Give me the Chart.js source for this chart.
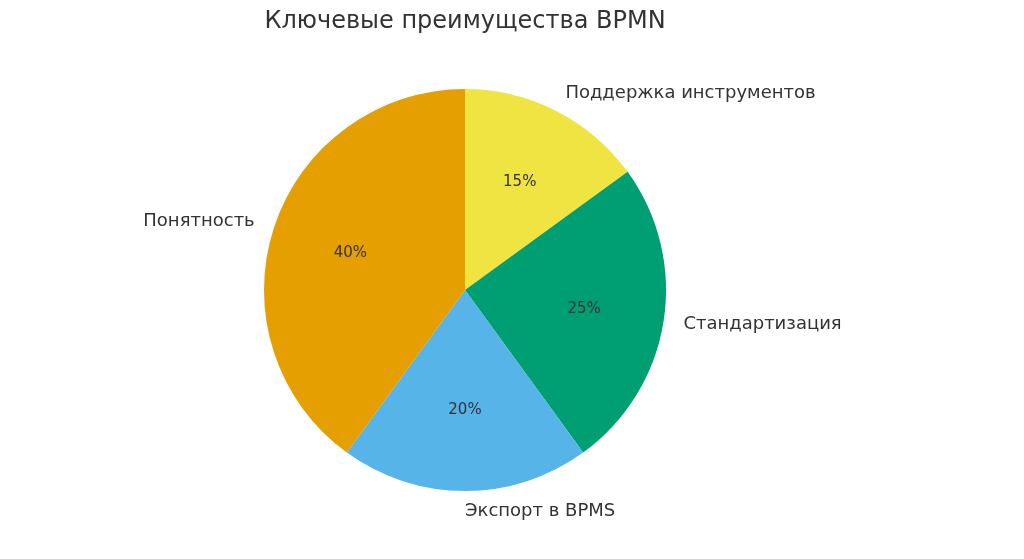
<!DOCTYPE html>
<html lang="ru">
<head>
<meta charset="UTF-8">
<title>Ключевые преимущества BPMN</title>
<script src="https://cdn.jsdelivr.net/npm/chart.js@4.4.0/dist/chart.umd.min.js"></script>
<style>
  html, body { margin: 0; padding: 0; background: #fff; }
  #wrap { width: 1024px; height: 559px; position: relative; }
</style>
</head>
<body>
<div id="wrap"><canvas id="pie"></canvas></div>
<script>
// clockwise from top (matplotlib draws these counterclockwise from the top)
const labels = ['Поддержка инструментов', 'Стандартизация', 'Экспорт в BPMS', 'Понятность'];
const values = [15, 25, 20, 40];
const colors = ['#F0E442', '#009E73', '#56B4E9', '#E69F00'];
const title = 'Ключевые преимущества BPMN';

const total = values.reduce((a, b) => a + b, 0);

const pieText = {
  id: 'pieText',
  afterDatasetsDraw(chart) {
    const ctx = chart.ctx;
    const arcs = chart.getDatasetMeta(0).data;
    ctx.save();
    ctx.fillStyle = '#333';
    ctx.textBaseline = 'middle';
    arcs.forEach((arc, i) => {
      const { x, y, startAngle, endAngle, outerRadius } = arc.getProps(['x', 'y', 'startAngle', 'endAngle', 'outerRadius'], true);
      const mid = (startAngle + endAngle) / 2;
      const c = Math.cos(mid), s = Math.sin(mid);
      ctx.font = '15px "DejaVu Sans"';
      ctx.textAlign = 'center';
      ctx.fillText(Math.round(values[i] / total * 100) + '%', x + c * outerRadius * 0.6, y + s * outerRadius * 0.6);
      ctx.font = '18px "DejaVu Sans"';
      ctx.textAlign = c >= -0.001 ? 'left' : 'right';
      ctx.fillText(labels[i], x + c * outerRadius * 1.1, y + s * outerRadius * 1.1);
    });
    ctx.font = '24px "DejaVu Sans"';
    ctx.textAlign = 'center';
    ctx.fillText(title, 465, 22);
    ctx.restore();
  }
};

new Chart(document.getElementById('pie'), {
  type: 'pie',
  data: {
    labels,
    datasets: [{ data: values, backgroundColor: colors, borderWidth: 0 }]
  },
  options: {
    responsive: true,
    maintainAspectRatio: false,
    animation: false,
    layout: { padding: { left: 264, right: 358, top: 89, bottom: 68 } },
    plugins: { legend: { display: false }, tooltip: { enabled: false } }
  },
  plugins: [pieText]
});
</script>
</body>
</html>
